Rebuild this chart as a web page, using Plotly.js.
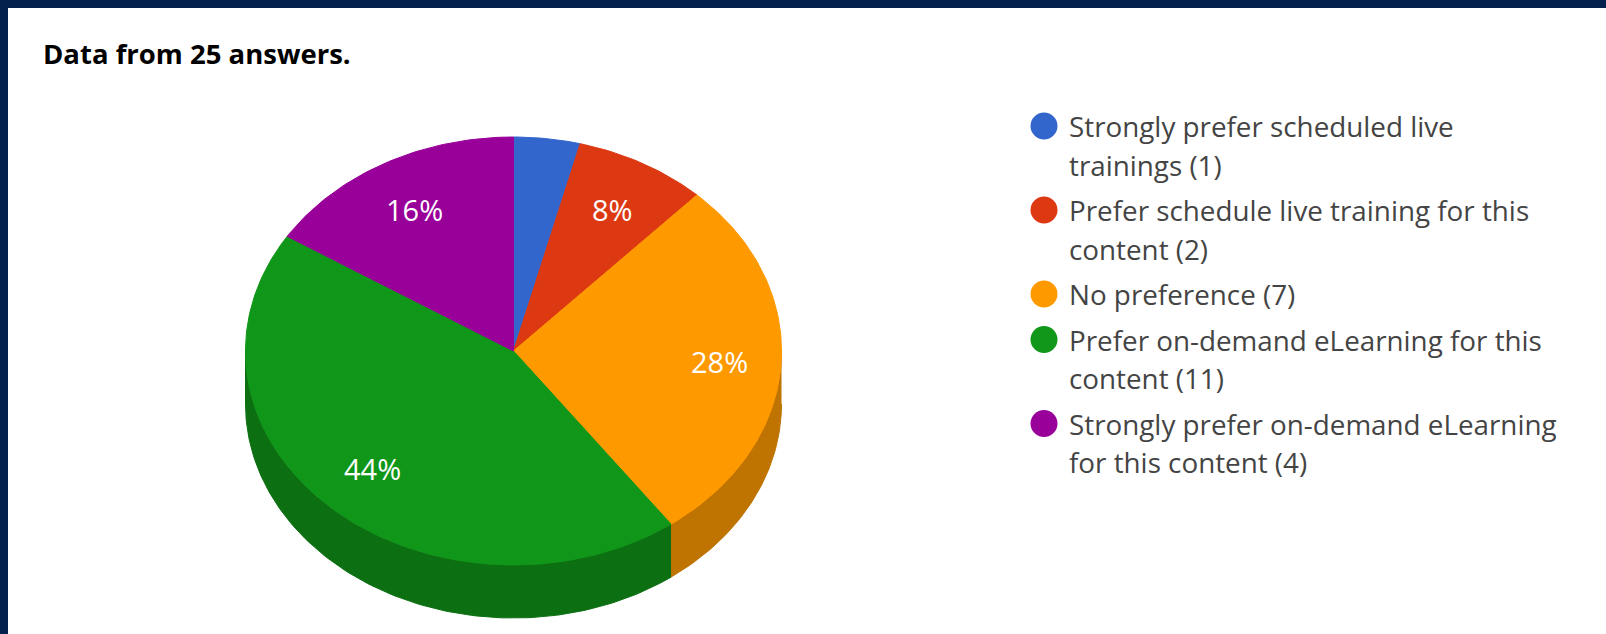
<!DOCTYPE html>
<html>
<head>
<meta charset="utf-8">
<script src="https://cdn.plot.ly/plotly-3.0.1.min.js"></script>
<style>
  html, body { margin: 0; padding: 0; background: #ffffff; }
  #chart { width: 1606px; height: 634px; }
</style>
</head>
<body>
<div id="chart"></div>
<script>
// ---- data ----
const title = "Data from 25 answers.";
const categories = [
  "Strongly prefer scheduled live trainings",
  "Prefer schedule live training for this content",
  "No preference",
  "Prefer on-demand eLearning for this content",
  "Strongly prefer on-demand eLearning for this content"
];
const counts = [1, 2, 7, 11, 4];
const legendLines = [
  ["Strongly prefer scheduled live", "trainings (1)"],
  ["Prefer schedule live training for this", "content (2)"],
  ["No preference (7)"],
  ["Prefer on-demand eLearning for this", "content (11)"],
  ["Strongly prefer on-demand eLearning", "for this content (4)"]
];
const colors = ["#3366cc", "#dc3912", "#ff9900", "#109618", "#990099"];
const sideColors = ["#264d99", "#a52b0e", "#bf7300", "#0c7012", "#730073"];

// ---- geometry (layout) ----
const W = 1606, H = 634;
const cx = 513.5, cy = 351, rx = 268, ry = 214, depth = 53;
const labelRx = 0.77, labelRy = 0.755;
const FONT = "'Open Sans', Roboto, sans-serif";

const total = counts.reduce((a, b) => a + b, 0);
function pt(angDeg, dy) {
  const a = angDeg * Math.PI / 180;
  return [cx + rx * Math.sin(a), cy + dy - ry * Math.cos(a)];
}
function arc(a0, a1, dy) {
  const xs = [], ys = [];
  const n = Math.max(2, Math.ceil(Math.abs(a1 - a0) / 1));
  for (let i = 0; i <= n; i++) {
    const p = pt(a0 + (a1 - a0) * i / n, dy);
    xs.push(p[0]); ys.push(p[1]);
  }
  return [xs, ys];
}

const traces = [];
const annotations = [];
const shapes = [];

// compute slice angles (clockwise from 12 o'clock)
const starts = [], ends = [];
let acc = 0;
counts.forEach((v) => {
  starts.push(acc / total * 360);
  acc += v;
  ends.push(acc / total * 360);
});

// side walls (visible front half: 90..270 deg)
counts.forEach((v, i) => {
  const s = Math.max(starts[i], 90), e = Math.min(ends[i], 270);
  if (e <= s) return;
  const top = arc(s, e, 0);
  const bot = arc(e, s, depth);
  traces.push({
    type: "scatter", mode: "lines",
    x: top[0].concat(bot[0]), y: top[1].concat(bot[1]),
    fill: "toself", fillcolor: sideColors[i],
    line: { color: sideColors[i], width: 1 },
    hoverinfo: "skip", showlegend: false
  });
});

// top faces
counts.forEach((v, i) => {
  const a = arc(starts[i], ends[i], 0);
  traces.push({
    type: "scatter", mode: "lines",
    x: [cx].concat(a[0], [cx]), y: [cy].concat(a[1], [cy]),
    fill: "toself", fillcolor: colors[i],
    line: { color: colors[i], width: 1 },
    name: categories[i],
    hoverinfo: "skip", showlegend: false
  });
  const pct = Math.round(v / total * 100);
  if (pct >= 5) {
    const mid = (starts[i] + ends[i]) / 2 * Math.PI / 180;
    annotations.push({
      x: cx + labelRx * rx * Math.sin(mid), y: cy - labelRy * ry * Math.cos(mid),
      xref: "x", yref: "y", text: pct + "%", showarrow: false,
      xanchor: "center", yanchor: "middle",
      font: { family: FONT, size: 29, color: "#ffffff" }
    });
  }
});

// legend (manual, to match multi-line layout)
const legX = 1044, legTextX = 1067, legY0 = 126, lineGap = 38.5, itemGap = 45.5, dotR = 13.5;
let y = legY0;
legendLines.forEach((lines, i) => {
  shapes.push({
    type: "circle", xref: "x", yref: "y",
    x0: legX - dotR, x1: legX + dotR, y0: y - dotR, y1: y + dotR,
    fillcolor: colors[i], line: { width: 0 }
  });
  lines.forEach((t, j) => {
    annotations.push({
      x: legTextX, y: y, xref: "x", yref: "y", text: t, showarrow: false,
      xanchor: "left", yanchor: "middle",
      font: { family: FONT, size: 27.8, color: "#444444" }
    });
    if (j < lines.length - 1) y += lineGap;
  });
  y += itemGap;
});

// title
annotations.push({
  x: 41, y: 53, xref: "x", yref: "y", text: "<b>" + title + "</b>", showarrow: false,
  xanchor: "left", yanchor: "middle",
  font: { family: FONT, size: 27.5, color: "#000000" }
});

// page frame (dark navy border top/left)
shapes.push({ type: "rect", xref: "x", yref: "y", x0: 0, x1: W, y0: 0, y1: 8, fillcolor: "#04214e", line: { width: 0 }, layer: "above" });
shapes.push({ type: "rect", xref: "x", yref: "y", x0: 0, x1: 8, y0: 0, y1: H, fillcolor: "#04214e", line: { width: 0 }, layer: "above" });

const layout = {
  width: W, height: H,
  margin: { l: 0, r: 0, t: 0, b: 0, pad: 0 },
  paper_bgcolor: "#ffffff", plot_bgcolor: "#ffffff",
  xaxis: { range: [0, W], visible: false, fixedrange: true },
  yaxis: { range: [H, 0], visible: false, fixedrange: true },
  showlegend: false,
  annotations: annotations,
  shapes: shapes
};

Plotly.newPlot("chart", traces, layout, { displayModeBar: false, staticPlot: true });
</script>
</body>
</html>
